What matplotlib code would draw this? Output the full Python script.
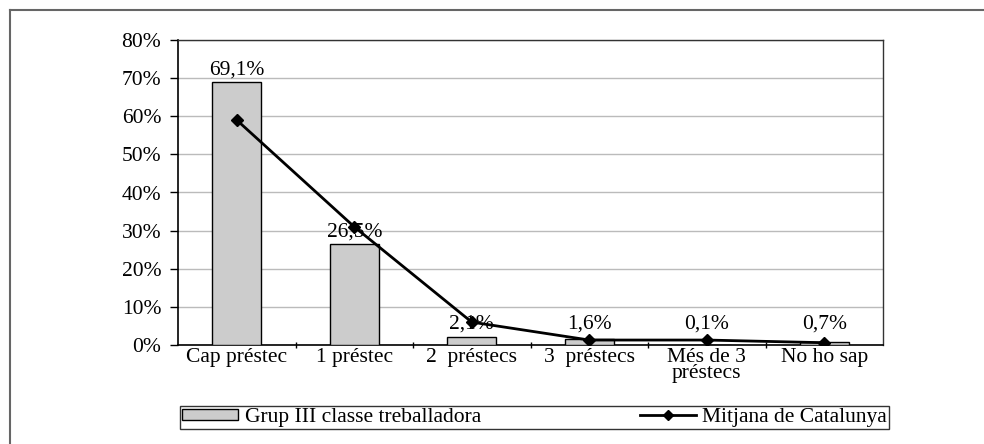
import matplotlib
matplotlib.use("Agg")
import matplotlib.pyplot as plt
from matplotlib.lines import Line2D
import numpy as np

categories = ["Cap préstec", "1 préstec", "2  préstecs", "3  préstecs", "Més de 3\npréstecs", "No ho sap"]
grup_values = [69.1, 26.5, 2.1, 1.6, 0.1, 0.7]
grup_labels = ["69,1%", "26,5%", "2,1%", "1,6%", "0,1%", "0,7%"]
mitjana_values = [59.0, 31.0, 6.0, 1.3, 1.3, 0.6]
yticks = [0, 10, 20, 30, 40, 50, 60, 70, 80]
ytick_labels = ["0%", "10%", "20%", "30%", "40%", "50%", "60%", "70%", "80%"]

plt.rcParams['font.family'] = ['Liberation Serif', 'DejaVu Serif']
fs = 15.5

fig = plt.figure(figsize=(9.84, 4.44), dpi=100)
ax = fig.add_axes([178/984, 1-345/444, (883-178)/984, (345-40)/444])

x = np.arange(len(categories))
bars = ax.bar(x, grup_values, width=0.42, color="#cccccc", edgecolor="black", linewidth=1,
              zorder=3, label="Grup III classe treballadora")
ax.plot(x, mitjana_values, color="black", linewidth=2, marker="D", markersize=6,
        zorder=4, label="Mitjana de Catalunya")

for xi, v, lab in zip(x, grup_values, grup_labels):
    ax.text(xi, max(v + 0.6, 2.9), lab, ha="center", va="bottom", fontsize=fs, zorder=5)

ax.set_xlim(-0.5, len(categories) - 0.5)
ax.set_ylim(0, 80)
ax.set_yticks(yticks)
ax.set_yticklabels(ytick_labels, fontsize=fs)
ax.yaxis.grid(True, color="#bbbbbb", linewidth=1, zorder=0)
ax.set_axisbelow(True)

ax.set_xticks(x)
ax.set_xticklabels(categories, fontsize=fs, linespacing=0.8)
ax.tick_params(axis="x", which="major", length=0, pad=2)
ax.set_xticks(np.arange(0.5, len(categories) - 1, 1), minor=True)
ax.tick_params(axis="x", which="minor", length=5, direction="inout", width=1)
ax.tick_params(axis="y", length=6, width=1, direction="out", pad=6)

for s in ["top", "right"]:
    ax.spines[s].set_color("#333333")
    ax.spines[s].set_linewidth(1)
for s in ["left", "bottom"]:
    ax.spines[s].set_color("black")
    ax.spines[s].set_linewidth(1.2)

handles = [plt.Rectangle((0, 0), 1, 1, facecolor="#cccccc", edgecolor="black", linewidth=1),
           Line2D([0], [0], color="black", linewidth=2, marker="D", markersize=5)]
leg = fig.legend(handles, ["Grup III classe treballadora", "Mitjana de Catalunya"],
                 loc="lower left",
                 bbox_to_anchor=(180/984, 1-429/444, (889-180)/984, (429-402)/444),
                 mode="expand", ncol=2, fontsize=fs, frameon=True, fancybox=False,
                 borderpad=0.1, handlelength=2.6, handleheight=0.4, handletextpad=0.3,
                 borderaxespad=0, columnspacing=1.0)
leg.get_frame().set_edgecolor("black")
leg.get_frame().set_linewidth(1)

# outer frame (top and left visible)
fig.add_artist(Line2D([10/984, 10/984], [0, 1-10/444], transform=fig.transFigure,
                      color="#666666", linewidth=1.5))
fig.add_artist(Line2D([10/984, 1], [1-10/444, 1-10/444], transform=fig.transFigure,
                      color="#666666", linewidth=1.5))

fig.savefig("out.png", dpi=100)
